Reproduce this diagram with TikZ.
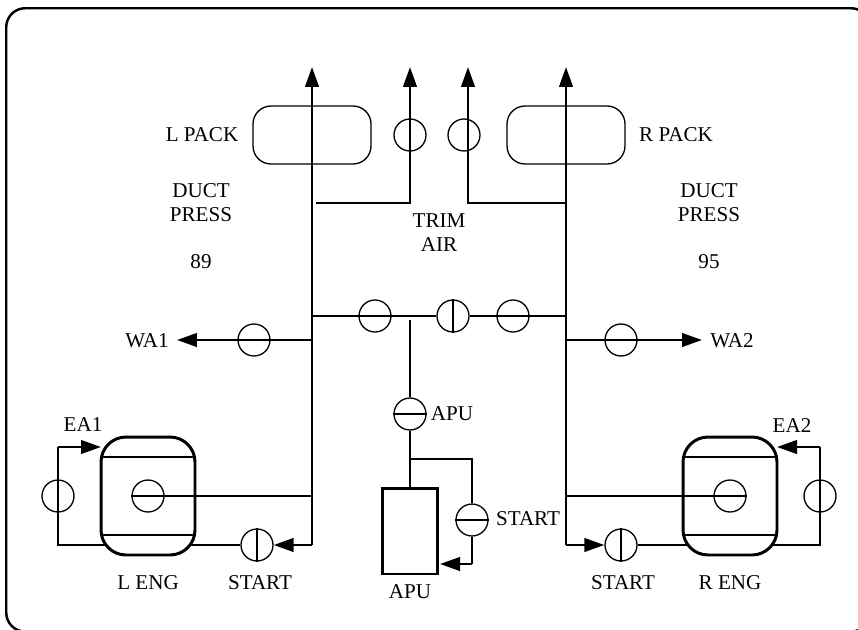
\documentclass[tikz,border=0pt]{standalone}
\usepackage{fontspec}
\setmainfont{Liberation Serif}
\usetikzlibrary{positioning,arrows.meta}
\begin{document}
\begin{tikzpicture}[
    x=0.02cm, y=-0.02cm,
    lblStyle/.style={font=\fontsize{12}{13.6}\selectfont, inner sep=0pt, align=center},
    valveStyle/.style={circle, draw, line width=0.75pt, minimum size=0.64cm, inner sep=0pt},
    packStyle/.style={rectangle, rounded corners=0.36cm, draw, line width=0.75pt, minimum width=2.36cm, minimum height=1.16cm},
    engStyle/.style={rectangle, rounded corners=0.5cm, draw, line width=1.7pt, minimum width=1.88cm, minimum height=2.36cm},
    pipeStyle/.style={line width=1.5pt},
    flowStyle/.style={pipeStyle, -{Triangle[length=0.4cm, width=0.27cm]}},
    barStyle/.style={line width=1.5pt, line cap=butt},
    bandStyle/.style={line width=0.85pt}
]
    \useasboundingbox (0,0) rectangle (858,629);
    \node[rectangle, draw, line width=1.4pt, rounded corners=0.38cm, minimum width=17.28cm, minimum height=12.47cm, anchor=north west] (frame) at (5,7) {};

    % packs
    \node[packStyle] (lpack) at (312,135) {};
    \node[packStyle] (rpack) at (566,135) {};
    \node[lblStyle] at (202,135) (lpacklbl) {L PACK};
    \node[lblStyle] at (676,135) (rpacklbl) {R PACK};
    \node[lblStyle] at (201,203) (lduct) {DUCT\\PRESS};
    \node[lblStyle] at (709,203) (rduct) {DUCT\\PRESS};
    \node[lblStyle] at (201,262) (lval) {89};
    \node[lblStyle] at (709,262) (rval) {95};
    \node[lblStyle] at (439,233) (trim) {TRIM\\AIR};

    % engines
    \node[engStyle] (leng) at (148,496) {};
    \node[engStyle] (reng) at (730,496) {};
    \node[lblStyle] at (148,583) (lenglbl) {L ENG};
    \node[lblStyle] at (730,583) (renglbl) {R ENG};
    \node[lblStyle] at (83,425) (ea1) {EA1};
    \node[lblStyle] at (792,426) (ea2) {EA2};
    \draw[bandStyle] (101,457) -- (195,457);
    \draw[bandStyle] (101,535) -- (195,535);
    \draw[bandStyle] (683,457) -- (777,457);
    \draw[bandStyle] (683,535) -- (777,535);

    % apu
    \node[rectangle, draw, line width=1.7pt, minimum width=1.1cm, minimum height=1.72cm] (apu) at (410,531) {};
    \node[lblStyle] at (410,592) (apulbl) {APU};

    % valves
    \node[valveStyle] (vtriml) at (410,135) {};
    \node[valveStyle] (vtrimr) at (464,135) {};
    \node[valveStyle] (vbl) at (375,316) {};
    \node[valveStyle] (vbc) at (453,316) {};
    \node[valveStyle] (vbr) at (513,316) {};
    \node[valveStyle] (vwl) at (254,340) {};
    \node[valveStyle] (vwr) at (621,340) {};
    \node[valveStyle] (vapu) at (410,414) {};
    \node[valveStyle] (vapus) at (472,520) {};
    \node[valveStyle] (veal) at (58,496) {};
    \node[valveStyle] (vear) at (820,496) {};
    \node[valveStyle] (vengl) at (148,496) {};
    \node[valveStyle] (vengr) at (730,496) {};
    \node[valveStyle] (vsl) at (257,545) {};
    \node[valveStyle] (vsr) at (621,545) {};
    \node[lblStyle] at (452,414) (vapulbl) {APU};
    \node[lblStyle] at (528,519) (vapuslbl) {START};
    \node[lblStyle] at (260,583) (vsllbl) {START};
    \node[lblStyle] at (623,583) (vsrlbl) {START};
    \node[lblStyle] at (147,341) (wa1) {WA1};
    \node[lblStyle] at (732,341) (wa2) {WA2};

    % free ends of the pipes
    \coordinate (lbot) at (312,545);
    \coordinate (rbot) at (566,545);
    \coordinate (ltop) at (312,67);
    \coordinate (rtop) at (566,67);
    \coordinate (ttl) at (410,67);
    \coordinate (ttr) at (468,67);
    \coordinate (tl) at (316,203);
    \coordinate (tr) at (566,203);
    \coordinate (lbl) at (312,316);
    \coordinate (rbl) at (566,316);
    \coordinate (lwa) at (312,340);
    \coordinate (rwa) at (566,340);
    \coordinate (lwt) at (177,340);
    \coordinate (rwt) at (702,340);
    \coordinate (leb) at (312,496);
    \coordinate (reb) at (566,496);
    \coordinate (apup) at (410,320);
    \coordinate (apuj) at (410,459);
    \coordinate (apui) at (472,564);
    \coordinate (apue) at (440,564);
    \coordinate (lea) at (58,447);
    \coordinate (rea) at (820,447);
    \coordinate (leat) at (101,447);
    \coordinate (reat) at (777,447);
    \coordinate (leo) at (58,545);
    \coordinate (reo) at (820,545);
    \coordinate (lej) at (106,545);
    \coordinate (lek) at (190,545);
    \coordinate (rej) at (688,545);
    \coordinate (rek) at (772,545);

    % main lines
    \draw[flowStyle] (lbot) -- (ltop);
    \draw[flowStyle] (rbot) -- (rtop);
    \draw[flowStyle] (tl) -| (ttl);
    \draw[flowStyle] (tr) -| (ttr);

    % crossbleed
    \draw[pipeStyle] (lbl) -- (vbc.west);
    \draw[pipeStyle] (vbc.east) -- (rbl);
    \draw[barStyle] (vbc.north) -- (vbc.south);

    % wing anti-ice
    \draw[flowStyle] (lwa) -- (lwt);
    \draw[flowStyle] (rwa) -- (rwt);

    % apu feed
    \draw[pipeStyle] (apup) -- (vapu.north);
    \draw[pipeStyle] (vapu.south) -- (apu.north);
    \draw[barStyle] (vapu.west) -- (vapu.east);
    \draw[pipeStyle] (apuj) -| (vapus.north);
    \draw[pipeStyle] (vapus.south) -- (apui);
    \draw[flowStyle] (apui) -- (apue);
    \draw[barStyle] (vapus.west) -- (vapus.east);

    % engine bleed
    \draw[pipeStyle] (vengl.west) -- (leb);
    \draw[pipeStyle] (vengr.east) -- (reb);

    % left engine
    \draw[pipeStyle] (lej) -- (leo) -- (lea);
    \draw[flowStyle] (lea) -- (leat);
    \draw[flowStyle] (lbot) -- (vsl.east);
    \draw[pipeStyle] (vsl.west) -- (lek);
    \draw[barStyle] (vsl.north) -- (vsl.south);

    % right engine
    \draw[pipeStyle] (rek) -- (reo) -- (rea);
    \draw[flowStyle] (rea) -- (reat);
    \draw[flowStyle] (rbot) -- (vsr.west);
    \draw[pipeStyle] (vsr.east) -- (rej);
    \draw[barStyle] (vsr.north) -- (vsr.south);
\end{tikzpicture}
\end{document}
